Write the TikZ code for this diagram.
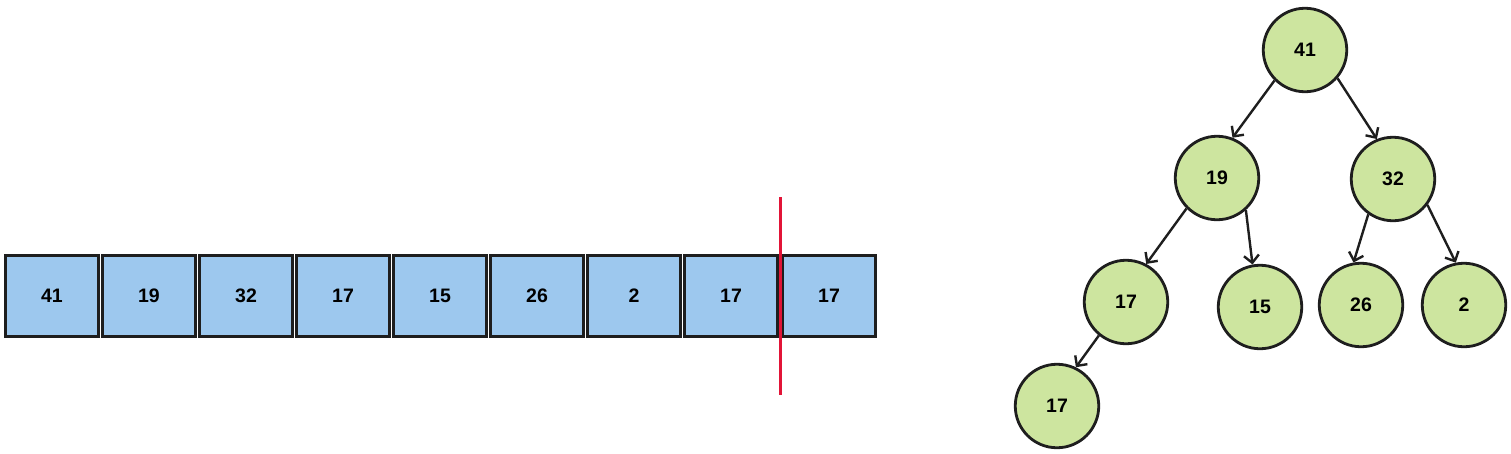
\documentclass[tikz,border=0pt]{standalone}
\usepackage{fontspec}
\setmainfont{Liberation Sans}
\usetikzlibrary{arrows.meta}
\definecolor{cellblue}{RGB}{157,200,238}
\definecolor{nodegreen}{RGB}{205,229,159}
\definecolor{edgegray}{RGB}{30,30,30}
\definecolor{cutred}{RGB}{226,20,55}
\tikzset{
  cell/.style={draw=edgegray, fill=cellblue, line width=2.8pt, minimum width=93.4pt, minimum height=81.4pt, inner sep=0pt, font=\fontsize{19.5}{19.5}\selectfont\bfseries},
  heapnode/.style={circle, draw=edgegray, fill=nodegreen, line width=2.8pt, minimum size=83.5pt, inner sep=0pt, font=\fontsize{19.5}{19.5}\selectfont\bfseries},
  arr/.style={draw=edgegray, line width=2.4pt, -{Straight Barb[length=7.5pt,width=15pt]}},
  cut/.style={draw=cutred, line width=2.2pt}
}
\begin{document}
\begin{tikzpicture}[x=1pt,y=-1pt]
\useasboundingbox (0,0) rectangle (1511,453);
% array
\node[cell] (c1) at (52,296) {41};
\node[cell] (c2) at (149,296) {19};
\node[cell] (c3) at (246,296) {32};
\node[cell] (c4) at (343,296) {17};
\node[cell] (c5) at (440,296) {15};
\node[cell] (c6) at (537,296) {26};
\node[cell] (c7) at (634,296) {2};
\node[cell] (c8) at (731,296) {17};
\node[cell] (c9) at (829,296) {17};
% cut line
\coordinate (rt) at (780.5,197);
\coordinate (rb) at (780.5,395);
\draw[cut] (rt) -- (rb);
% heap tree
\node[heapnode] (n41) at (1305,50) {41};
\node[heapnode] (n19) at (1217,178) {19};
\node[heapnode] (n32) at (1393,179) {32};
\node[heapnode] (n17a) at (1126,302) {17};
\node[heapnode] (n15) at (1260,307) {15};
\node[heapnode] (n26) at (1361,305) {26};
\node[heapnode] (n2) at (1464,305) {2};
\node[heapnode] (n17b) at (1057,406) {17};
\draw[arr] (n41.225) -- (n19.69);
\draw[arr] (n41.-41) -- (n32.112);
\draw[arr] (n19.225) -- (n17a.62);
\draw[arr] (n19.-48) -- (n15.100);
\draw[arr] (n32.235) -- (n26.100);
\draw[arr] (n32.-37) -- (n2.101);
\draw[arr] (n17a.231) -- (n17b.64);
\end{tikzpicture}
\end{document}
